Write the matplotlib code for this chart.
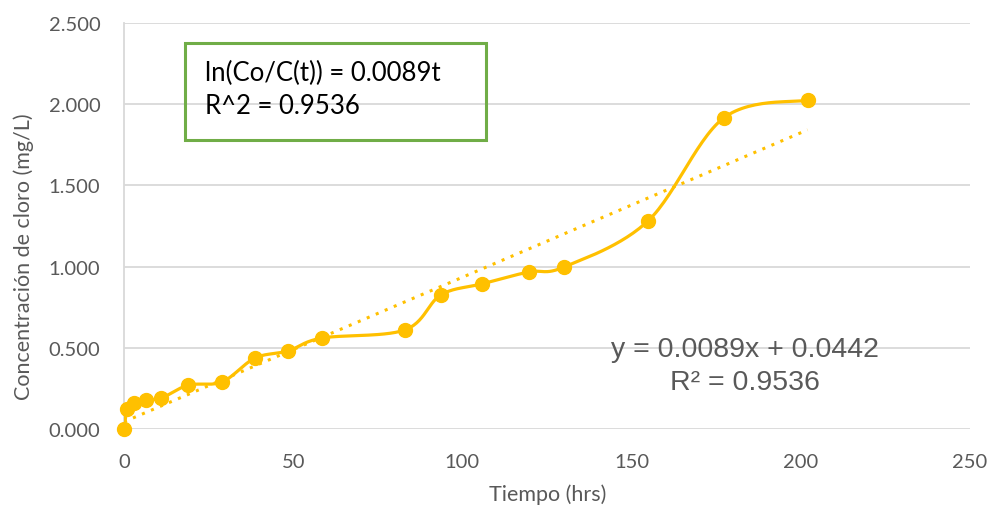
import numpy as np
import matplotlib
matplotlib.use("Agg")
import matplotlib.pyplot as plt
from matplotlib.patches import Rectangle

# Data
tiempo = [0, 1, 3, 6.5, 11, 19, 29, 38.7, 48.4, 58.5, 83, 93.6, 105.7, 119.6, 130, 154.8, 177.2, 202]
cloro = [0.0, 0.123, 0.16, 0.18, 0.19, 0.27, 0.29, 0.437, 0.48, 0.56, 0.61, 0.825, 0.893, 0.967, 0.997, 1.28, 1.915, 2.025]
slope = 0.0089
intercept = 0.0442
x_ticks = [0, 50, 100, 150, 200, 250]
y_ticks = [0.0, 0.5, 1.0, 1.5, 2.0, 2.5]

COLOR = "#FFC000"
GRAY_TXT = "#595959"
GRID = "#D9D9D9"

fig = plt.figure(figsize=(9.9, 5.1), dpi=100)
ax = fig.add_axes([124/990, 1-430/510, (970-124)/990, (430-24)/510])

ax.set_xlim(0, 250)
ax.set_ylim(0, 2.5)

# Smoothed line (Catmull-Rom in display-normalized space)
W = 846.0; H = 406.0
px = np.array(tiempo) / 250 * W
py = np.array(cloro) / 2.5 * H
P = np.column_stack([px, py])
n = len(P)
curve = []
for i in range(n - 1):
    p0 = P[i - 1] if i > 0 else P[i]
    p1 = P[i]
    p2 = P[i + 1]
    p3 = P[i + 2] if i + 2 < n else P[i + 1]
    c1 = p1 + (p2 - p0) / 6.0
    c2 = p2 - (p3 - p1) / 6.0
    t = np.linspace(0, 1, 30)[:, None]
    seg = (1-t)**3*p1 + 3*(1-t)**2*t*c1 + 3*(1-t)*t**2*c2 + t**3*p2
    curve.append(seg if i == 0 else seg[1:])
curve = np.vstack(curve)
cx = curve[:, 0] / W * 250
cy = curve[:, 1] / H * 2.5

ax.plot(cx, cy, color=COLOR, lw=2.3, zorder=3, solid_capstyle="round")
ax.plot(tiempo, cloro, linestyle="none", marker="o", markersize=10, color=COLOR, zorder=4, clip_on=False)

# Trendline
tx = np.array([0, max(tiempo)])
ax.plot(tx, slope * tx + intercept, color=COLOR, lw=2.2, linestyle=(0, (1, 2.2)), zorder=2)

# Grid/axes styling
ax.set_xticks(x_ticks)
ax.set_yticks(y_ticks)
ax.set_yticklabels([f"{v:.3f}" for v in y_ticks])
ax.grid(axis="y", color=GRID, lw=1.3)
ax.set_axisbelow(True)
for s in ["top", "right", "bottom"]:
    ax.spines[s].set_visible(False)
ax.spines["left"].set_color(GRID)
ax.spines["left"].set_linewidth(1.3)
ax.tick_params(length=0, labelsize=14.5, colors=GRAY_TXT)
ax.tick_params(axis="y", pad=17)
ax.tick_params(axis="x", pad=17)
for lab in ax.get_xticklabels() + ax.get_yticklabels():
    lab.set_fontfamily("Lato")

fig.text(548/990, 1-495/510, "Tiempo (hrs)", fontsize=15.5, color=GRAY_TXT, family="Lato", ha="center", va="center")
fig.text(24/990, 1-257/510, "Concentración de cloro (mg/L)", fontsize=15.5, color=GRAY_TXT, family="Lato",
         ha="center", va="center", rotation=90)

# Text box
fig.patches.append(Rectangle((185/990, 1-141/510), (486-185)/990, (141-44)/510,
                             transform=fig.transFigure, fill=False, edgecolor="#70AD47", lw=2.2))
fig.text(205/990, 1-73/510, "ln(Co/C(t)) = 0.0089t", fontsize=18.5, family="Lato", color="black", va="center")
fig.text(205/990, 1-107/510, "R^2 = 0.9536", fontsize=18.5, family="Lato", color="black", va="center")

# Trendline label
fig.text(745/990, 1-350/510, "y = 0.0089x + 0.0442", fontsize=20.5, family="Liberation Sans", color=GRAY_TXT, ha="center", va="center")
fig.text(745/990, 1-383/510, "R² = 0.9536", fontsize=20.5, family="Liberation Sans", color=GRAY_TXT, ha="center", va="center")

fig.savefig("out.png", dpi=100)
